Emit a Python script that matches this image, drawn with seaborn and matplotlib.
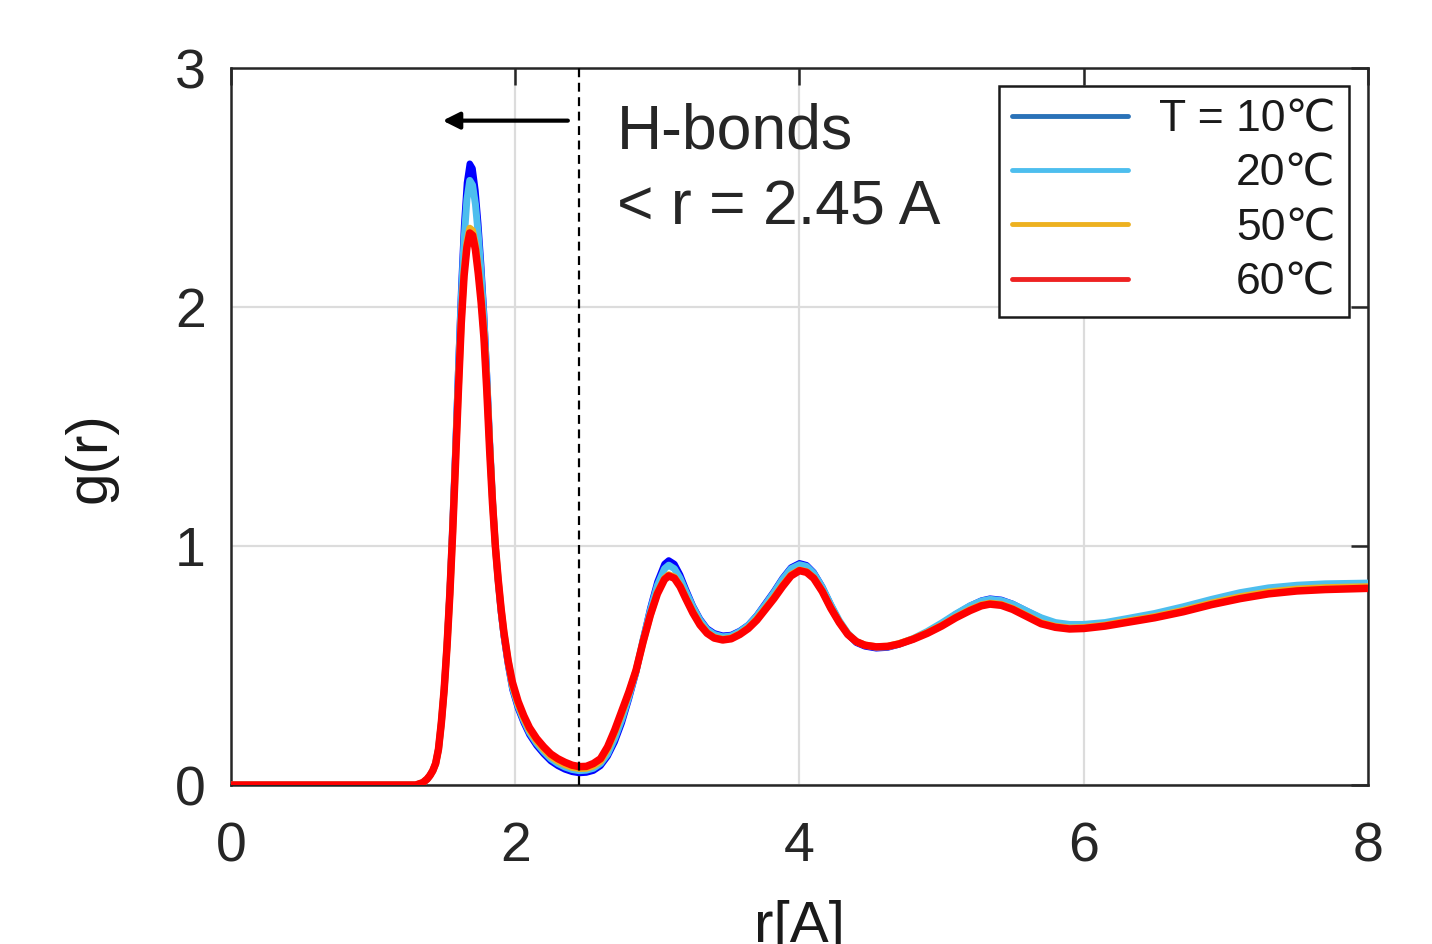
import numpy as np
import pandas as pd
import matplotlib
matplotlib.use("Agg")
import matplotlib.pyplot as plt
from matplotlib.lines import Line2D
import seaborn as sns

# --- data ---
r = [0.0, 1.30, 1.35, 1.38, 1.40, 1.42, 1.44, 1.46, 1.48, 1.50,
     1.52, 1.54, 1.56, 1.58, 1.60, 1.62, 1.64, 1.66, 1.68, 1.70,
     1.72, 1.74, 1.76, 1.78, 1.80, 1.82, 1.84, 1.86, 1.88, 1.90,
     1.92, 1.95, 1.98, 2.02, 2.06, 2.10, 2.15, 2.20, 2.25, 2.30,
     2.35, 2.40, 2.45, 2.50, 2.55, 2.60, 2.65, 2.70, 2.75, 2.80,
     2.85, 2.90, 2.95, 3.00, 3.05, 3.08, 3.12, 3.16, 3.20, 3.25,
     3.30, 3.35, 3.40, 3.46, 3.52, 3.58, 3.64, 3.70, 3.76, 3.82,
     3.88, 3.94, 4.00, 4.05, 4.10, 4.16, 4.22, 4.28, 4.34, 4.40,
     4.46, 4.54, 4.62, 4.70, 4.80, 4.90, 5.00, 5.10, 5.20, 5.28,
     5.34, 5.42, 5.50, 5.60, 5.70, 5.80, 5.90, 6.00, 6.15, 6.30,
     6.50, 6.70, 6.90, 7.10, 7.30, 7.50, 7.70, 8.00]

g_10 = [0, 0, 0.01, 0.025, 0.04, 0.06, 0.09, 0.15, 0.26, 0.40,
        0.59, 0.82, 1.10, 1.42, 1.76, 2.08, 2.34, 2.52, 2.60, 2.58,
        2.49, 2.35, 2.18, 1.98, 1.73, 1.45, 1.20, 1.00, 0.85, 0.72,
        0.62, 0.50, 0.40, 0.32, 0.26, 0.21, 0.165, 0.13, 0.10, 0.08,
        0.065, 0.055, 0.05, 0.052, 0.06, 0.08, 0.12, 0.18, 0.26, 0.36,
        0.47, 0.61, 0.74, 0.85, 0.925, 0.94, 0.925, 0.88, 0.82, 0.75,
        0.695, 0.655, 0.635, 0.625, 0.628, 0.645, 0.67, 0.71, 0.76, 0.81,
        0.865, 0.91, 0.928, 0.92, 0.89, 0.83, 0.755, 0.685, 0.63, 0.595,
        0.58, 0.572, 0.575, 0.588, 0.61, 0.64, 0.675, 0.715, 0.75, 0.772,
        0.78, 0.775, 0.758, 0.728, 0.698, 0.675, 0.665, 0.665, 0.672, 0.69,
        0.712, 0.74, 0.772, 0.80, 0.82, 0.832, 0.838, 0.842]

g_20 = [0, 0, 0.01, 0.025, 0.04, 0.06, 0.09, 0.15, 0.26, 0.40,
        0.59, 0.81, 1.09, 1.40, 1.73, 2.03, 2.28, 2.45, 2.53, 2.51,
        2.43, 2.30, 2.14, 1.95, 1.71, 1.44, 1.20, 1.00, 0.85, 0.73,
        0.63, 0.51, 0.41, 0.33, 0.27, 0.22, 0.175, 0.14, 0.11, 0.09,
        0.075, 0.065, 0.06, 0.062, 0.07, 0.09, 0.13, 0.195, 0.275, 0.37,
        0.475, 0.61, 0.73, 0.835, 0.905, 0.92, 0.905, 0.865, 0.81, 0.745,
        0.69, 0.65, 0.63, 0.62, 0.624, 0.642, 0.668, 0.707, 0.755, 0.805,
        0.86, 0.905, 0.922, 0.915, 0.886, 0.828, 0.755, 0.688, 0.635, 0.60,
        0.585, 0.576, 0.578, 0.59, 0.613, 0.643, 0.678, 0.716, 0.75, 0.77,
        0.777, 0.772, 0.757, 0.728, 0.70, 0.68, 0.672, 0.672, 0.68, 0.696,
        0.718, 0.746, 0.777, 0.805, 0.825, 0.836, 0.842, 0.845]

g_50 = [0, 0, 0.01, 0.025, 0.04, 0.06, 0.09, 0.15, 0.26, 0.40,
        0.58, 0.80, 1.06, 1.36, 1.66, 1.94, 2.15, 2.27, 2.33, 2.32,
        2.26, 2.16, 2.04, 1.89, 1.67, 1.42, 1.19, 1.00, 0.86, 0.74,
        0.64, 0.52, 0.42, 0.34, 0.28, 0.23, 0.185, 0.15, 0.12, 0.10,
        0.085, 0.074, 0.069, 0.07, 0.08, 0.10, 0.15, 0.22, 0.30, 0.385,
        0.48, 0.60, 0.71, 0.805, 0.865, 0.88, 0.87, 0.835, 0.785, 0.725,
        0.675, 0.638, 0.618, 0.61, 0.615, 0.633, 0.658, 0.695, 0.74, 0.785,
        0.835, 0.88, 0.90, 0.893, 0.868, 0.812, 0.742, 0.682, 0.632, 0.60,
        0.586, 0.579, 0.581, 0.592, 0.612, 0.638, 0.668, 0.703, 0.734, 0.754,
        0.761, 0.756, 0.739, 0.709, 0.679, 0.664, 0.657, 0.659, 0.669, 0.685,
        0.705, 0.731, 0.762, 0.788, 0.808, 0.82, 0.826, 0.83]

g_60 = [0, 0, 0.01, 0.025, 0.04, 0.06, 0.09, 0.15, 0.26, 0.40,
        0.58, 0.80, 1.06, 1.35, 1.65, 1.93, 2.13, 2.25, 2.31, 2.30,
        2.24, 2.14, 2.02, 1.87, 1.65, 1.40, 1.18, 1.00, 0.86, 0.74,
        0.64, 0.52, 0.43, 0.35, 0.29, 0.24, 0.195, 0.16, 0.13, 0.11,
        0.095, 0.083, 0.077, 0.078, 0.09, 0.11, 0.16, 0.23, 0.31, 0.39,
        0.48, 0.60, 0.71, 0.80, 0.86, 0.875, 0.865, 0.83, 0.78, 0.72,
        0.67, 0.635, 0.615, 0.607, 0.612, 0.63, 0.655, 0.69, 0.735, 0.78,
        0.83, 0.875, 0.897, 0.89, 0.865, 0.81, 0.74, 0.68, 0.63, 0.60,
        0.585, 0.578, 0.58, 0.59, 0.61, 0.635, 0.665, 0.70, 0.73, 0.75,
        0.757, 0.752, 0.735, 0.705, 0.675, 0.66, 0.653, 0.655, 0.665, 0.68,
        0.70, 0.725, 0.755, 0.78, 0.80, 0.812, 0.818, 0.823]

labels = ["T = 10\u2103", "20\u2103", "50\u2103", "60\u2103"]
line_colors = ["#0000FF", "#4DBEEE", "#EDB120", "#FF0000"]
legend_colors = ["#2A72B8", "#4DBEEE", "#EDB120", "#EE2222"]
line_widths = [4.6, 5.0, 5.0, 5.4]
r_cut = 2.45

df = pd.DataFrame({"r": r, "10": g_10, "20": g_20, "50": g_50, "60": g_60})

# --- plotting ---
sns.set_theme(style="white")
plt.rcParams["font.family"] = ["Liberation Sans", "DejaVu Sans"]

fig = plt.figure(figsize=(14.32, 9.44), dpi=100)
ax = fig.add_axes([0.1613, 0.1684, 0.794, 0.7595])

for col, c, lw in zip(["10", "20", "50", "60"], line_colors, line_widths):
    sns.lineplot(data=df, x="r", y=col, color=c, lw=lw, ax=ax, legend=False, zorder=3)

ax.axvline(r_cut, color="black", ls=(0, (4, 2.5)), lw=1.6, zorder=4)
ax.annotate("", xy=(1.47, 2.78), xytext=(2.39, 2.78),
            arrowprops=dict(arrowstyle="-|>", color="black", lw=3, mutation_scale=25))
ax.text(2.716, 2.665, "H-bonds", fontsize=45, va="baseline", ha="left")
ax.text(2.716, 2.347, "< r = 2.45 A", fontsize=45, va="baseline", ha="left")

ax.set_xlim(0, 8)
ax.set_ylim(0, 3)
ax.set_xticks([0, 2, 4, 6, 8])
ax.set_yticks([0, 1, 2, 3])
ax.grid(True, color="#DCDCDC", lw=1.6)
ax.set_axisbelow(True)
ax.tick_params(direction="in", length=12, width=1.8, color="#262626",
               top=True, right=True, labelsize=40, labelcolor="#262626")
ax.tick_params(axis="x", pad=26)
ax.tick_params(axis="y", pad=18)
for s in ax.spines.values():
    s.set_color("#262626")
    s.set_linewidth(1.8)

ax.set_xlabel("r[A]", fontsize=42, color="#1a1a1a")
ax.set_ylabel("g(r)", fontsize=42, color="#1a1a1a")
ax.xaxis.set_label_coords(0.5, -0.16)
ax.yaxis.set_label_coords(-0.10, 0.457)

handles = [Line2D([0], [0], color=c, lw=3.5) for c in legend_colors]
leg = ax.legend(handles, labels, loc="upper right", bbox_to_anchor=(0.983, 0.975),
                fontsize=32, frameon=True, fancybox=False, edgecolor="#1a1a1a",
                handlelength=2.6, handletextpad=0.7, labelspacing=0.3,
                borderpad=0.3, borderaxespad=0)
leg.get_frame().set_linewidth(1.8)
leg.get_frame().set_alpha(1)
for t in leg.get_texts():
    t.set_color("#1a1a1a")

# right-align legend labels inside the box
fig.canvas.draw()
renderer = fig.canvas.get_renderer()
widths = [t.get_window_extent(renderer).width for t in leg.get_texts()]
for t, w in zip(leg.get_texts(), widths):
    t.set_position((max(widths) - w, 0))

fig.savefig("out.png", dpi=100)
